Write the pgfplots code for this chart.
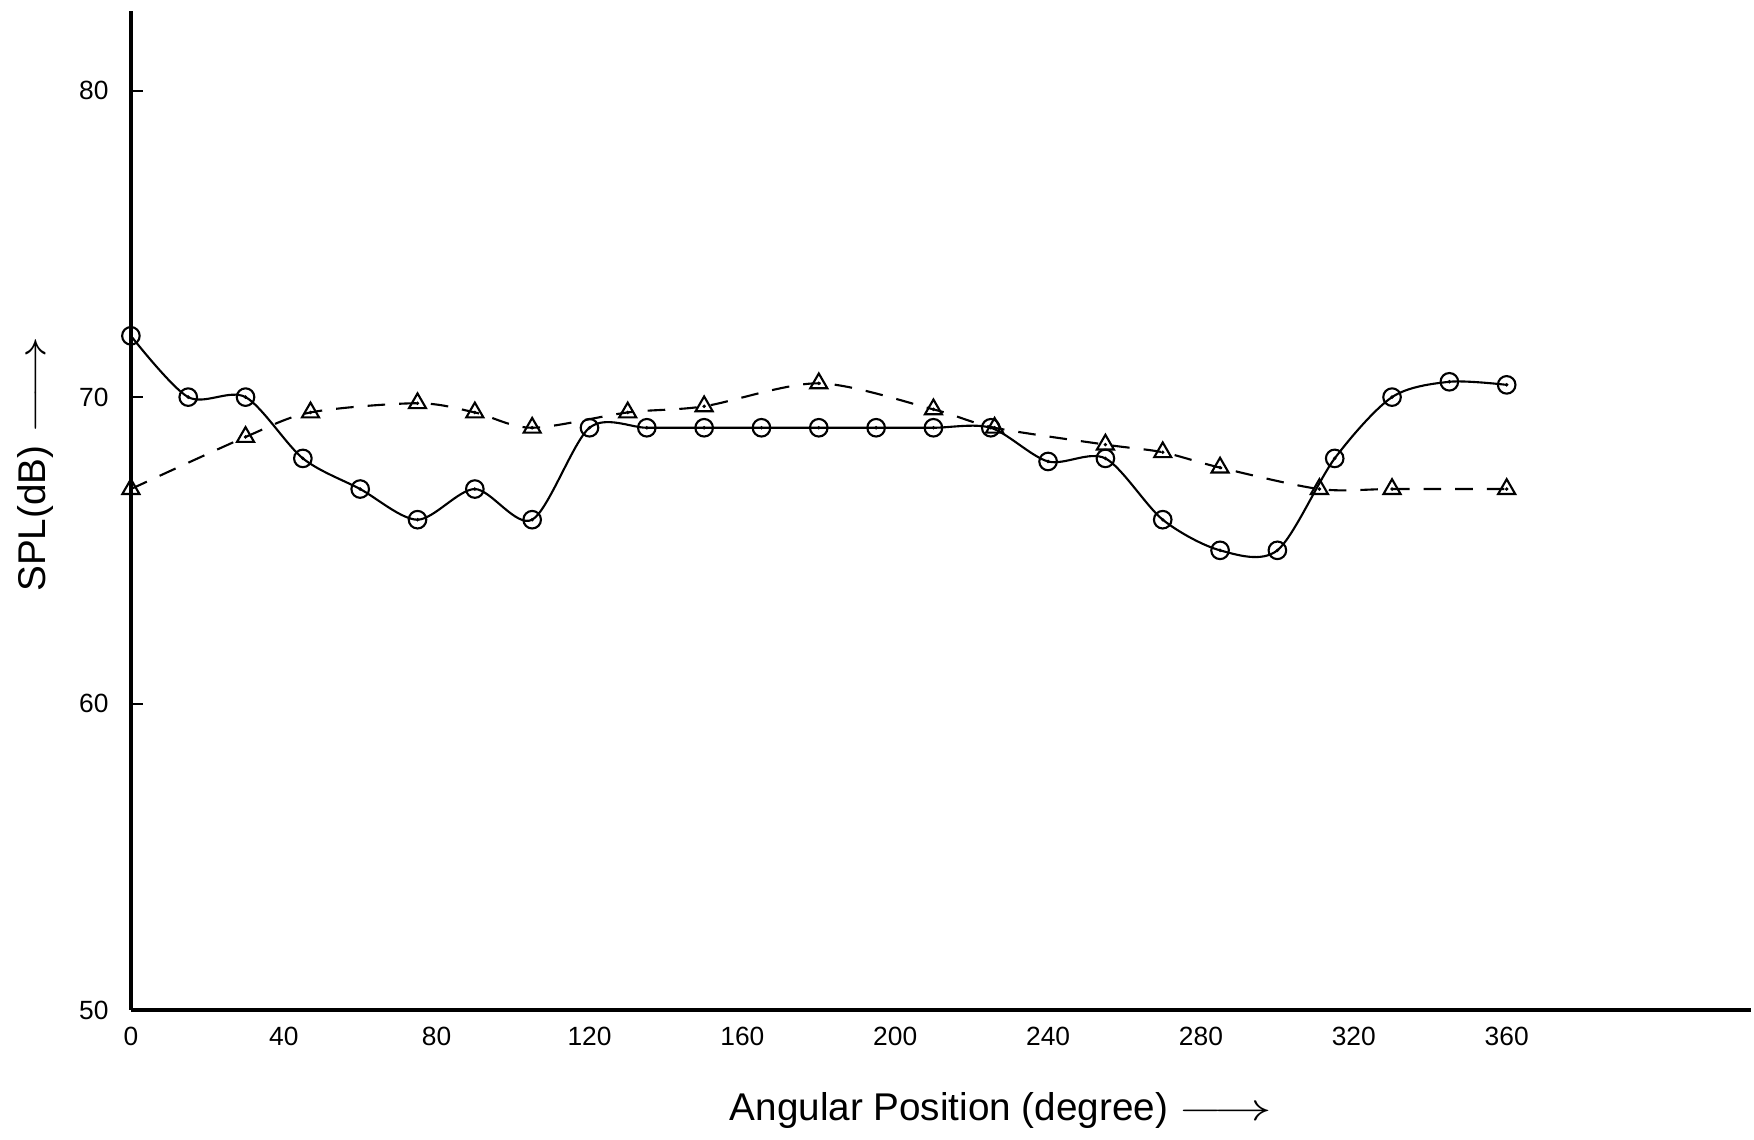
\documentclass[border=0pt]{standalone}
\usepackage{pgfplots}
\pgfplotsset{compat=1.18}
\usepackage{fontspec}
\setmainfont{Liberation Sans}
\usepackage{graphicx}

\pgfdeclareplotmark{odot}{%
  \pgfpathcircle{\pgfpointorigin}{\pgfplotmarksize}\pgfusepathqstroke
  \pgfpathcircle{\pgfpointorigin}{0.55pt}\pgfusepathqfill}
\pgfdeclareplotmark{tdot}{%
  \pgfpathmoveto{\pgfpointpolar{90}{\pgfplotmarksize}}%
  \pgfpathlineto{\pgfpointpolar{-30}{\pgfplotmarksize}}%
  \pgfpathlineto{\pgfpointpolar{210}{\pgfplotmarksize}}%
  \pgfpathclose\pgfusepathqstroke
  \pgfpathcircle{\pgfpointorigin}{0.55pt}\pgfusepathqfill}

\begin{document}
\begin{tikzpicture}
\useasboundingbox (-13.09mm,-13.0mm) rectangle (162.31mm,101.0mm);
\begin{axis}[
  at={(0,0)}, anchor=south west, scale only axis,
  width=162.0mm, height=99.9mm,
  xmin=0, xmax=423.9, ymin=50, ymax=82.6,
  axis x line=bottom, axis y line=left,
  axis line style={-, line width=1pt, black},
  xtick={0,40,...,360}, ytick={50,60,70,80},
  xtick style={draw=none},
  ytick style={line width=0.6pt, black},
  tick align=inside, major tick length=1.2mm,
  tick label style={font=\fontsize{7.5}{8}\selectfont},
  /pgf/number format/assume math mode=true,
  yticklabel style={anchor=east, xshift=-1.0mm},
  xticklabel style={anchor=north, yshift=-0.5mm},
  clip=false,
  xlabel={Angular Position (degree) \scalebox{1.5}[1]{$\longrightarrow$}},
  ylabel={SPL(dB) \scalebox{1.6}[1]{$\longrightarrow$}},
  xlabel style={at={(axis description cs:0.537,-0.101)}, anchor=center, font=\fontsize{11}{13}\selectfont},
  ylabel style={at={(axis description cs:-0.0586,0.547)}, anchor=center, font=\fontsize{11}{13}\selectfont},
]
\addplot[black, line width=0.6pt, smooth, tension=0.5, mark=odot, mark size=2.5pt, mark options={solid}]
coordinates {
(0,72.0) (15,70.0) (30,70.0) (45,68.0) (60,67.0) (75,66.0) (90,67.0) (105,66.0)
(120,69.0) (135,69.0) (150,69.0) (165,69.0) (180,69.0) (195,69.0) (210,69.0) (225,69.0)
(240,67.9) (255,68.0) (270,66.0) (285,65.0) (300,65.0) (315,68.0) (330,70.0) (345,70.5) (360,70.4)
};
\addplot[black, line width=0.6pt, smooth, tension=0.5, dash pattern=on 5pt off 4pt, mark=tdot, mark size=2.8pt, mark options={solid}]
coordinates {
(0,67.0) (30,68.7) (47,69.5) (75,69.8) (90,69.5) (105,69.0) (130,69.5) (150,69.7)
(180,70.45) (210,69.6) (226,69.0) (255,68.45) (270,68.2) (285,67.7) (311,67.0) (330,67.0) (360,67.0)
};
\end{axis}
\end{tikzpicture}
\end{document}
